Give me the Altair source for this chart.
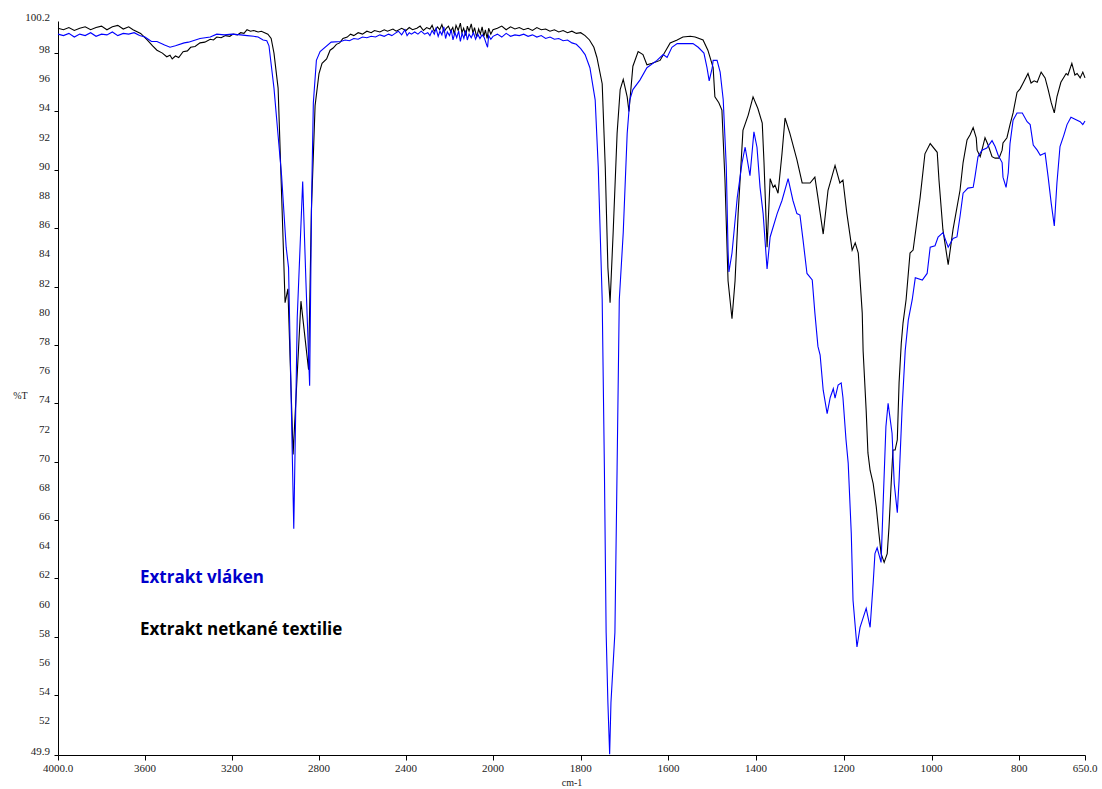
import altair as alt
import pandas as pd

# ---- black series: "Extrakt netkané textilie" ----
black_wn = [4000, 3975, 3950, 3925, 3900, 3875, 3850, 3825, 3800, 3775, 3750, 3725, 3700, 3675, 3655,
            3620, 3590, 3565, 3545, 3520, 3500, 3485, 3475, 3460, 3445, 3425, 3405, 3390, 3370, 3347,
            3325, 3300, 3285, 3270, 3250, 3230, 3210, 3195, 3175, 3160, 3145, 3131, 3115, 3100, 3080,
            3065, 3050, 3035, 3020, 3007, 2988, 2964, 2956, 2943, 2919, 2883, 2860, 2848, 2835, 2818,
            2800, 2786, 2765, 2749, 2735, 2720, 2705, 2690, 2670, 2655,
            2640, 2620, 2600, 2580, 2560, 2545, 2520, 2500, 2485, 2460, 2445, 2420, 2400, 2385, 2370,
            2350, 2335, 2320, 2305, 2290, 2280, 2270, 2255, 2245, 2235, 2225, 2215, 2205, 2195, 2185,
            2178, 2170, 2160, 2150, 2143, 2135, 2125, 2118, 2110, 2100, 2092, 2085, 2075, 2066, 2058,
            2050, 2042, 2035, 2027, 2020, 2010, 2000,
            1990, 1980, 1970, 1960, 1950, 1940, 1930, 1920, 1910, 1900, 1890, 1880, 1870, 1860, 1850,
            1840, 1830, 1820, 1810, 1800, 1790, 1780, 1770, 1763, 1751, 1744, 1738, 1733, 1726, 1717,
            1710, 1703, 1694, 1690, 1681, 1669, 1658, 1649, 1637, 1619, 1596, 1580, 1567, 1550, 1539,
            1521, 1510, 1498, 1494, 1485, 1478, 1471, 1464, 1455, 1448, 1441, 1430, 1418, 1407, 1396,
            1386, 1382, 1375, 1368, 1361, 1357, 1350, 1341, 1334, 1323, 1307, 1295, 1277, 1266, 1259,
            1247, 1236, 1220, 1209, 1202, 1193, 1181, 1174, 1167, 1158, 1156, 1149, 1145, 1140, 1133,
            1126, 1120, 1115, 1108, 1101, 1097, 1092, 1088, 1083, 1078, 1074, 1069, 1065, 1058, 1049,
            1042, 1026, 1015, 1003, 987, 983, 974, 962, 951, 935, 928, 919, 912, 905, 898,
            896, 889, 885, 878, 871, 862, 855, 846, 839, 837, 828, 821, 814, 805, 798,
            791, 780, 773, 766, 759, 750, 741, 734, 727, 720, 714, 705, 693, 689, 680,
            673, 668, 661, 655, 650]
black_t = [99.7, 99.6, 99.75, 99.55, 99.7, 99.8, 99.6, 99.75, 99.85, 99.6, 99.8, 99.9, 99.65, 99.8, 99.6,
           99.35, 98.9, 98.5, 98.2, 98.0, 97.75, 97.85, 97.6, 97.8, 97.7, 98.1, 98.15, 98.4, 98.45, 98.7,
           98.75, 98.95, 98.9, 99.1, 99.05, 99.2, 99.15, 99.3, 99.25, 99.4, 99.35, 99.6, 99.5, 99.55, 99.45,
           99.5, 99.4, 99.3, 99.0, 98.0, 95.6, 84.7, 80.9, 81.85, 70.5, 81.0, 77.9, 76.3, 87.2, 94.4,
           96.6, 97.3, 97.6, 98.2, 98.35, 98.6, 98.7, 99.0, 99.1, 99.3,
           99.2, 99.4, 99.3, 99.5, 99.4, 99.55, 99.45, 99.6, 99.5, 99.65, 99.5, 99.7, 99.55, 99.75, 99.6,
           99.7, 99.85, 99.55, 99.75, 99.65, 99.9, 99.5, 99.8, 99.6, 99.95, 99.45, 99.7, 99.85, 99.5, 99.75,
           99.3, 99.9, 99.55, 100.05, 99.4, 99.7, 99.2, 99.85, 99.5, 100.0, 99.35, 99.75, 99.1, 99.65, 99.3,
           99.8, 99.15, 99.6, 99.0, 99.7, 99.3, 99.6,
           99.7, 99.85, 99.6, 99.8, 99.65, 99.75, 99.6, 99.7, 99.55, 99.75, 99.6, 99.65, 99.5, 99.6, 99.45,
           99.55, 99.4, 99.5, 99.35, 99.4, 99.2, 98.9, 98.4, 97.7, 95.9, 90.2, 83.3, 80.9, 85.7, 92.5,
           95.5, 96.2, 95.0, 94.0, 97.1, 98.1, 97.9, 97.2, 97.3, 97.5, 98.7, 98.9, 99.1, 99.15, 99.1,
           98.9, 98.2, 97.0, 95.0, 94.6, 94.1, 89.3, 82.4, 79.8, 82.4, 87.0, 92.7, 93.75, 95.0, 94.2,
           93.2, 90.5, 84.7, 89.4, 88.8, 88.95, 88.4, 91.1, 93.55, 92.5, 90.7, 89.1, 89.1, 89.5, 88.1,
           85.6, 88.6, 90.3, 89.1, 89.3, 87.0, 84.5, 85.0, 84.3, 80.2, 77.6, 73.5, 70.6, 69.4, 68.5,
           66.9, 65.1, 63.7, 63.1, 63.7, 65.5, 68.5, 70.8, 70.8, 71.5, 75.4, 78.1, 79.5, 81.1, 84.3,
           84.5, 88.1, 91.1, 91.8, 91.2, 89.3, 85.9, 83.5, 85.9, 88.6, 90.5, 92.05, 92.4, 92.9, 92.2,
           91.35, 90.9, 91.35, 92.2, 91.7, 90.9, 90.8, 90.8, 91.35, 91.85, 92.2, 93.1, 93.9, 95.3, 95.55,
           95.95, 96.6, 95.95, 96.1, 96.0, 96.7, 96.3, 95.5, 94.6, 93.9, 95.0, 96.0, 96.6, 96.5, 97.3,
           96.5, 96.6, 96.3, 96.7, 96.3]

# ---- blue series: "Extrakt vláken" ----
blue_wn = [4000, 3975, 3950, 3925, 3900, 3875, 3850, 3825, 3800, 3775, 3750, 3725, 3700, 3675, 3650,
           3625, 3600, 3570, 3545, 3510, 3485, 3460, 3420, 3400, 3347, 3300, 3270, 3235, 3200, 3160,
           3130, 3100, 3080, 3057, 3040, 3030, 3007, 2972, 2951, 2940, 2916, 2900, 2875, 2860, 2843,
           2834, 2826, 2812, 2795, 2744,
           2700, 2680, 2660, 2640, 2620, 2600, 2580, 2560, 2540, 2520, 2500, 2480, 2465, 2450, 2435,
           2420, 2405, 2395, 2385, 2375, 2360, 2345, 2330, 2315, 2300, 2290, 2280, 2270, 2262, 2252,
           2244, 2235, 2226, 2218, 2210, 2200, 2192, 2184, 2175, 2167, 2158, 2150, 2142, 2134, 2126,
           2118, 2110, 2100, 2090, 2080, 2070, 2060, 2050, 2040, 2030, 2025, 2020, 2010, 2000,
           1990, 1980, 1970, 1960, 1950, 1940, 1930, 1920, 1910, 1900, 1890, 1880, 1870, 1860, 1850,
           1840, 1830, 1820, 1810, 1800, 1790, 1779, 1767, 1760, 1751, 1746, 1742, 1738, 1734, 1731,
           1722, 1717, 1712, 1703, 1694, 1688, 1681, 1665, 1649, 1626, 1612, 1603, 1592, 1580, 1544,
           1532, 1519, 1512, 1507, 1500, 1498, 1489, 1482, 1475, 1468, 1464, 1462, 1455, 1443, 1432,
           1425, 1414, 1405, 1398, 1391, 1384, 1375, 1368, 1352, 1341, 1327, 1316, 1307, 1300, 1293,
           1284, 1272, 1266, 1259, 1254, 1247, 1238, 1231, 1224, 1220, 1213, 1206, 1202, 1195, 1190,
           1183, 1179, 1170, 1163, 1149, 1140, 1133, 1129, 1124, 1115, 1110, 1104, 1099, 1090, 1085,
           1078, 1074, 1067, 1060, 1053, 1044, 1037, 1021, 1010, 1003, 992, 985, 974, 962, 951,
           942, 935, 928, 917, 905, 901, 894, 885, 874, 862, 855, 848, 839, 837, 830,
           825, 821, 814, 805, 793, 782, 775, 768, 759, 752, 741, 734, 727, 720, 714,
           707, 698, 691, 682, 675, 668, 661, 655, 650]
blue_t = [99.3, 99.2, 99.35, 99.1, 99.3, 99.2, 99.4, 99.15, 99.3, 99.25, 99.45, 99.2, 99.35, 99.3, 99.4,
          99.2, 99.1, 98.8, 98.8, 98.55, 98.4, 98.5, 98.7, 98.75, 99.0, 99.1, 99.3, 99.25, 99.3, 99.25,
          99.2, 99.15, 99.1, 98.9, 98.85, 98.5, 95.6, 89.6, 84.7, 83.3, 65.4, 79.9, 89.2, 82.3, 75.2,
          88.0, 94.6, 97.5, 98.1, 98.75,
          98.8, 98.9, 98.85, 99.0, 98.95, 99.1, 99.05, 99.15, 99.1, 99.25, 99.15, 99.3, 99.2, 99.35, 99.5,
          99.25, 99.6, 99.2, 99.4, 99.3, 99.45, 99.3, 99.5, 99.3, 99.4, 99.2, 99.55, 99.3, 99.7, 99.15,
          99.5, 99.25, 99.8, 99.0, 99.45, 99.2, 99.6, 98.9, 99.4, 99.05, 99.5, 98.8, 99.35, 99.0, 99.55,
          98.9, 99.3, 99.05, 99.4, 98.95, 99.3, 99.0, 99.25, 99.05, 98.6, 98.4, 99.2, 98.95, 99.15,
          99.3, 99.1, 99.35, 99.15, 99.25, 99.2, 99.3, 99.15, 99.25, 99.1, 99.2, 99.0, 99.1, 98.95, 99.0,
          98.85, 98.9, 98.7, 98.6, 98.3, 97.9, 97.0, 94.8, 90.2, 81.1, 69.6, 58.3, 53.5, 49.95, 53.5,
          58.3, 69.6, 81.1, 85.7, 92.5, 94.8, 95.5, 96.15, 97.0, 97.5, 97.9, 97.7, 98.4, 98.65, 98.65,
          98.4, 98.0, 97.0, 96.1, 97.0, 97.5, 97.5, 96.7, 94.8, 90.2, 84.5, 83.0, 84.3, 88.1, 90.5,
          91.55, 89.6, 92.6, 91.55, 88.8, 87.0, 83.2, 85.4, 87.0, 87.9, 89.4, 87.9, 87.0, 86.9, 85.2,
          82.9, 82.45, 80.2, 77.9, 77.3, 74.9, 73.3, 74.4, 75.0, 74.35, 75.25, 75.4, 74.4, 71.5, 69.9,
          65.1, 60.5, 57.3, 58.65, 59.95, 58.65, 61.7, 63.7, 64.1, 63.1, 67.4, 72.4, 74.0, 71.95, 68.5,
          66.5, 68.7, 73.7, 77.6, 79.7, 81.1, 82.6, 82.45, 82.9, 84.7, 84.8, 85.4, 85.7, 84.7, 85.3,
          85.4, 86.8, 88.4, 88.75, 88.8, 89.5, 90.9, 91.35, 91.5, 92.0, 91.6, 91.0, 90.5, 89.5, 88.8,
          89.8, 91.8, 93.4, 93.9, 93.9, 93.3, 93.1, 91.7, 91.35, 91.0, 91.15, 89.5, 87.7, 86.15, 89.1,
          91.6, 92.4, 93.1, 93.6, 93.5, 93.4, 93.3, 93.1, 93.35]

x_ticks = [4000, 3600, 3200, 2800, 2400, 2000, 1800, 1600, 1400, 1200, 1000, 800, 650]
x_labels = ["4000.0", "3600", "3200", "2800", "2400", "2000", "1800", "1600", "1400", "1200",
            "1000", "800", "650.0"]
y_ticks = [49.9, 52, 54, 56, 58, 60, 62, 64, 66, 68, 70, 72, 74, 76, 78, 80, 82, 84, 86, 88,
           90, 92, 94, 96, 98, 100.2]
y_labels = ["49.9", "52", "54", "56", "58", "60", "62", "64", "66", "68", "70", "72", "74", "76",
            "78", "80", "82", "84", "86", "88", "90", "92", "94", "96", "98", "100.2"]
series_names = ["Extrakt vláken", "Extrakt netkané textilie"]

df_black = pd.DataFrame({"wn": black_wn, "T": black_t})
df_blue = pd.DataFrame({"wn": blue_wn, "T": blue_t})
df_xlab = pd.DataFrame({"v": x_ticks, "lab": x_labels})
df_ylab = pd.DataFrame({"v": y_ticks, "lab": y_labels})

SERIF = "'Liberation Serif', 'Times New Roman', 'DejaVu Serif', serif"
xscale = alt.Scale(domain=[4000, 2000, 650], range=[0, 435, 1027], nice=False, zero=False)
yscale = alt.Scale(domain=[49.9, 100.2], nice=False, zero=False)

xaxis = alt.Axis(values=x_ticks, labels=False, grid=False, tickSize=5, tickColor="#000000",
                 domainColor="#000000", title="cm-1", titleFont=SERIF, titleFontSize=10,
                 titleFontWeight="normal", titleColor="#222222", titlePadding=17)
yaxis = alt.Axis(values=y_ticks, labels=False, grid=False, tickSize=4, tickColor="#000000",
                 domainColor="#000000", title="%T", titleAngle=0, titleX=-38, titleY=374,
                 titleAlign="center", titleBaseline="middle", titleFont=SERIF, titleFontSize=10,
                 titleFontWeight="normal", titleColor="#222222")

black_line = alt.Chart(df_black).mark_line(color="#000000", strokeWidth=1.1).encode(
    x=alt.X("wn:Q", scale=xscale, axis=xaxis),
    y=alt.Y("T:Q", scale=yscale, axis=yaxis),
    order=alt.Order("wn:Q", sort="descending"),
)
blue_line = alt.Chart(df_blue).mark_line(color="#0000ff", strokeWidth=1.1).encode(
    x=alt.X("wn:Q", scale=xscale, axis=xaxis),
    y=alt.Y("T:Q", scale=yscale, axis=yaxis),
    order=alt.Order("wn:Q", sort="descending"),
)

ylab_layer = alt.Chart(df_ylab).mark_text(align="right", baseline="alphabetic", dx=-8,
                                          font=SERIF, fontSize=11, color="#222222").encode(
    x=alt.value(0), y=alt.Y("v:Q", scale=yscale), text="lab:N")
xlab_layer = alt.Chart(df_xlab).mark_text(align="center", baseline="top", dy=8,
                                          font=SERIF, fontSize=11, color="#222222").encode(
    x=alt.X("v:Q", scale=xscale), y=alt.value(734), text="lab:N")

label_blue = alt.Chart().mark_text(text=series_names[0], align="left", baseline="middle",
                                   font="Open Sans", fontWeight="bold", fontSize=17, color="#0000cc").encode(
    x=alt.datum(3623, scale=xscale), y=alt.datum(62.0, scale=yscale))
label_black = alt.Chart().mark_text(text=series_names[1], align="left", baseline="middle",
                                    font="Open Sans", fontWeight="bold", fontSize=17, color="#000000").encode(
    x=alt.datum(3623, scale=xscale), y=alt.datum(58.45, scale=yscale))

chart = alt.layer(black_line, blue_line, ylab_layer, xlab_layer, label_blue, label_black).properties(
    width=1027, height=734,
    padding={"left": 58, "top": 21, "right": 17, "bottom": 34},
    autosize="none",
    background="#ffffff",
).configure_view(stroke=None)

chart.save("out.html", embed_options={"renderer": "svg", "actions": False})
